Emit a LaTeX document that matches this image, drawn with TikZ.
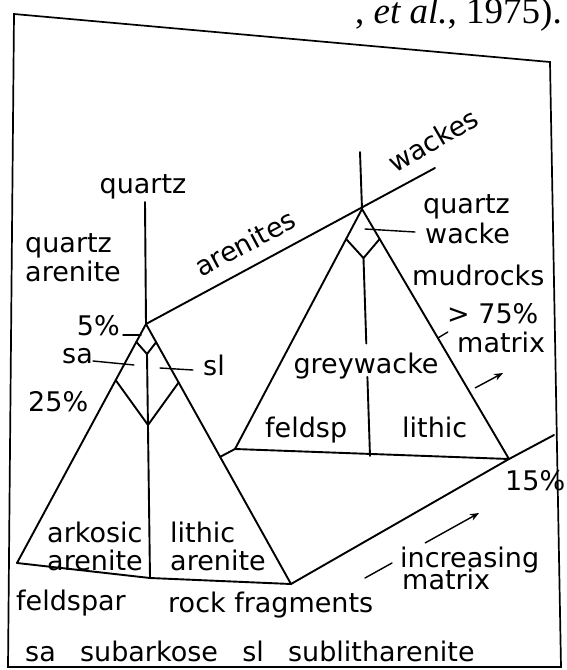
\documentclass[tikz,border=0pt]{standalone}
\usepackage{fontspec}
\setmainfont{DejaVu Sans}
\newfontfamily\capfont{Liberation Serif}
\usetikzlibrary{arrows.meta,calc}
\begin{document}
\begin{tikzpicture}[x=1pt,y=-1pt,
  ln/.style={line width=1.9pt, line cap=round, line join=round},
  ldr/.style={line width=1.4pt, line cap=round},
  frm/.style={line width=1.7pt, line join=miter},
  lbl/.style={font=\fontsize{27}{32}\selectfont, inner sep=0pt},
  arw/.style={line width=1.4pt, -{Stealth[length=9pt,width=7pt]}}]
\useasboundingbox (0,0) rectangle (566,670);
% caption fragment above the frame (cut off at the top edge)
\node[font=\capfont\fontsize{37}{42}\selectfont, inner sep=0pt, anchor=base east] (cap) at (562,23) {, \textit{et al.}, 1975).};
% frame
\coordinate (F1) at (14,14);
\coordinate (F2) at (550,62);
\coordinate (F3) at (561,667);
\coordinate (F4) at (8,667);
\draw[frm] (F1) -- (F2) -- (F3) -- (F4) -- cycle;
% arenite triangle
\coordinate (A) at (146,324);
\coordinate (L) at (17,563);
\coordinate (R) at (291,584);
\coordinate (M) at (150,578);
\coordinate (Qt) at (145,202);
\draw[ln] (L) -- (A) -- (R);
\draw[ln] (L) -- (M) -- (R);
% kites
\coordinate (P1) at ($(A)!0.075!(L)$);
\coordinate (P2) at ($(A)!0.07!(R)$);
\coordinate (B) at (147,354);
\coordinate (Q1) at ($(A)!0.235!(L)$);
\coordinate (Q2) at ($(A)!0.225!(R)$);
\coordinate (C) at (148,425);
\draw[ln] (P1) -- (B) -- (P2);
\draw[ln] (Q1) -- (C) -- (Q2);
\draw[ln] (Qt) -- (A);
\draw[ln] (B) -- (M);
% arenites / wackes line
\coordinate (E) at (435,168);
\draw[ln] (A) -- (E);
% wacke triangle
\coordinate (W) at (362,209);
\coordinate (WL) at (235,449);
\coordinate (WR) at (509,459);
\coordinate (Wt) at (360,152);
\coordinate (Wb) at (370,456);
\draw[ln] (WL) -- (W) -- (WR) -- cycle;
\coordinate (K1) at ($(W)!0.125!(WL)$);
\coordinate (K2) at ($(W)!0.12!(WR)$);
\coordinate (K3) at ($(Wt)!0.349!(Wb)$);
\draw[ln] (K1) -- (K3) -- (K2);
\coordinate (G1) at ($(Wt)!0.63!(Wb)$);
\coordinate (G2) at ($(Wt)!0.74!(Wb)$);
\draw[ln] (Wt) -- (W);
\draw[ln] (K3) -- (G1);
\draw[ln] (G2) -- (Wb);
% floor lines
\coordinate (Fe) at (554,435);
\draw[ln] (R) -- (WR) -- (Fe);
\coordinate (H) at (intersection of WL--L and A--R);
\draw[ln] (WL) -- (H);
% leaders
\coordinate (l5a) at (123,335);
\coordinate (l5b) at (141,335);
\draw[ldr] (l5a) -- (l5b);
\coordinate (lsa) at (93,361);
\coordinate (lsb) at (134,365);
\draw[ldr] (lsa) -- (lsb);
\coordinate (lla) at (160,368);
\coordinate (llb) at (193,370);
\draw[ldr] (lla) -- (llb);
\coordinate (lwa) at (365,229);
\coordinate (lwb) at (415,232);
\draw[ldr] (lwa) -- (lwb);
% 75% tick
\coordinate (T1) at ($(W)!0.516!(WR)$);
\coordinate (T2) at ($(T1)+(10,-6)$);
\draw[ldr] (T1) -- (T2);
% arrows
\coordinate (a1) at (475,388);
\coordinate (a2) at (503,373);
\draw[arw] (a1) -- (a2);
\coordinate (m1) at (365,578);
\coordinate (m2) at (392,563);
\coordinate (m3) at (425,543);
\coordinate (m4) at (479,513);
\draw[ldr] (m1) -- (m2);
\draw[arw] (m3) -- (m4);
% labels
\node[lbl, anchor=base] (tq) at (143,193) {quartz};
\node[lbl, anchor=base west] (tqa1) at (25,252) {quartz};
\node[lbl, anchor=base west] (tqa2) at (25,281) {arenite};
\node[lbl, rotate=28] (tar) at (245,243) {arenites};
\node[lbl, rotate=30] (twa) at (433,140) {wackes};
\node[lbl, anchor=base east] (t5) at (120,335) {5\%};
\node[lbl, anchor=base west] (tsa) at (62,363) {sa};
\node[lbl, anchor=base west] (t25) at (28,411) {25\%};
\node[lbl, anchor=base west] (tsl) at (203,375) {sl};
\node[lbl, anchor=base west] (tqw1) at (423,213) {quartz};
\node[lbl, anchor=base west] (tqw2) at (425,243) {wacke};
\node[lbl, anchor=base west] (tmud) at (412,285) {mudrocks};
\node[lbl, anchor=base west] (t75) at (447,323) {> 75\%};
\node[lbl, anchor=base west] (tmat) at (457,352) {matrix};
\node[lbl, anchor=base] (tgw) at (366,373) {greywacke};
\node[lbl, anchor=base west] (tfs) at (265,437) {feldsp};
\node[lbl, anchor=base west] (tli) at (402,437) {lithic};
\node[lbl, anchor=base west] (t15) at (505,490) {15\%};
\node[lbl, anchor=base west] (tak1) at (47,542) {arkosic};
\node[lbl, anchor=base west] (tak2) at (47,570) {arenite};
\node[lbl, anchor=base west] (tla1) at (170,542) {lithic};
\node[lbl, anchor=base west] (tla2) at (170,570) {arenite};
\node[lbl, anchor=base west] (tfeld) at (16,610) {feldspar};
\node[lbl, anchor=base west] (trock) at (168,612) {rock fragments};
\node[lbl, anchor=base west] (tinc) at (400,567) {increasing};
\node[lbl, anchor=base west] (tmat2) at (402,589) {matrix};
\node[lbl, anchor=base west] (tleg) at (25,661) {sa\hspace{0.9em}subarkose\hspace{0.9em}sl\hspace{0.9em}sublitharenite};
\end{tikzpicture}
\end{document}
